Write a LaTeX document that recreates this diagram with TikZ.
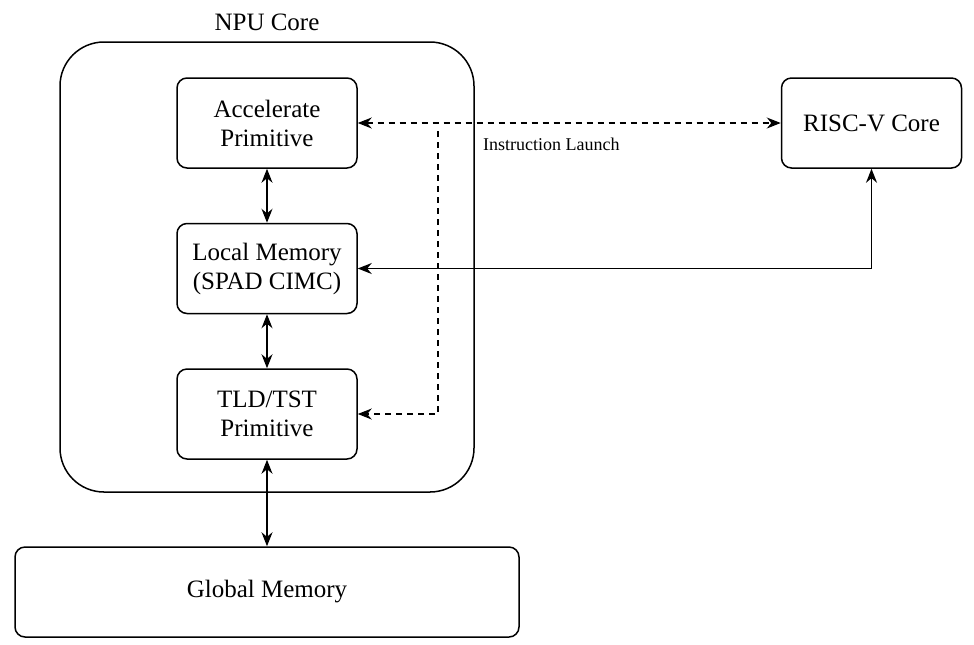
\documentclass[tikz,border=0pt]{standalone}
\usepackage{fontspec}
\setmainfont{Liberation Serif}
\usetikzlibrary{arrows.meta}
\usetikzlibrary{positioning}

\begin{document}
\begin{tikzpicture}[x=0.5pt,y=-0.5pt,
    >={Stealth[length=7pt,width=5.5pt]},
    box/.style={draw,line width=0.75pt,rounded corners=5pt,align=center,minimum width=90pt,minimum height=45pt,font=\fontsize{12.5}{14.5}\selectfont},
    link/.style={<->,line width=0.75pt},
    ctrl/.style={->,line width=0.75pt,dash pattern=on 3pt off 2.5pt}]
    \useasboundingbox (0,0) rectangle (974,644);

    \node[draw,line width=0.75pt,rounded corners=22pt,minimum width=207pt,minimum height=225pt] (npu) at (267,267) {};
    \node[font=\fontsize{12.5}{14.5}\selectfont] (npulabel) at (267,22) {NPU Core};

    \node[box] (acc) at (267,123) {Accelerate\\Primitive};
    \node[box, below =27pt of acc] (local) {Local Memory\\(SPAD CIMC)};
    \node[box, below =27pt of local] (tld) {TLD/TST\\Primitive};

    \node[box,minimum width=252pt] (global) at (267,592) {Global Memory};
    \node[box, right =211.5pt of acc] (riscv) {RISC-V Core};

    \coordinate (split) at (438,131);
    \node[anchor=west,font=\fontsize{9}{10}\selectfont] (launch) at (476,144) {Instruction Launch};

    \draw[link] (acc) -- (local);
    \draw[link] (local) -- (tld);
    \draw[link] (tld) -- (global);
    \draw[link] (local.east) -| (riscv.south);

    \draw[ctrl,<->] (acc.east) -- (riscv.west);
    \draw[ctrl] (split) |- (tld.east);

\end{tikzpicture}
\end{document}
